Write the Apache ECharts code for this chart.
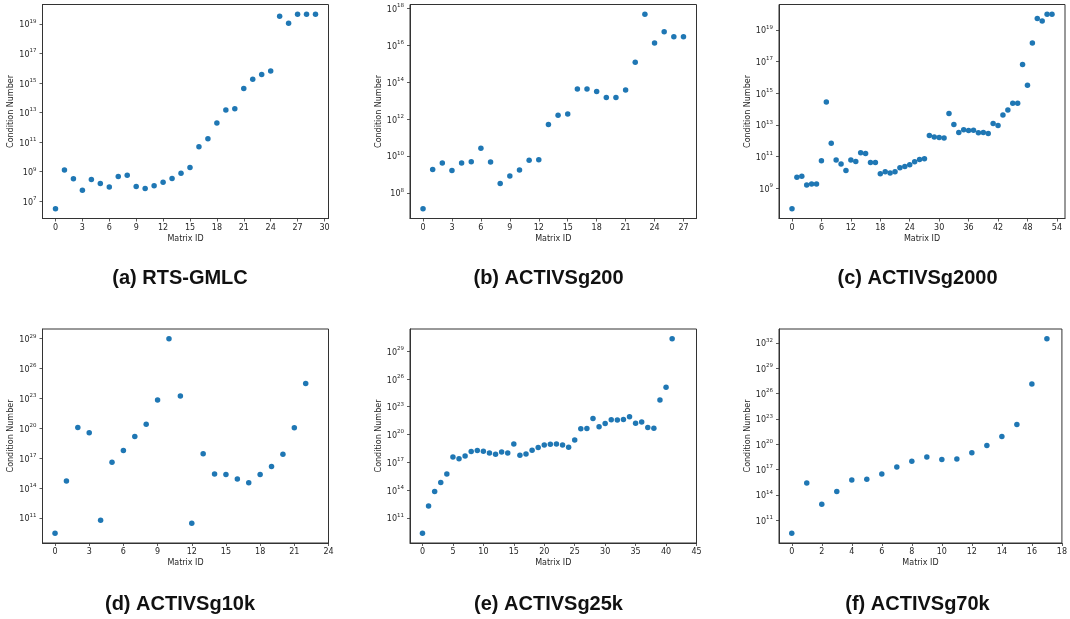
<!DOCTYPE html>
<html>
<head>
<meta charset="utf-8">
<script src="https://cdn.jsdelivr.net/npm/echarts@6/dist/echarts.min.js"></script>
<style>
  html, body { margin: 0; padding: 0; background: #fff; }
  #chart { width: 1070px; height: 619px; }
</style>
</head>
<body>
<div id="chart"></div>
<script>
// Condition numbers of the matrices in each test system (indexed by Matrix ID)
const rtsGmlc = [3.1e6, 1.3e9, 3.3e8, 5.6e7, 3.0e8, 1.6e8, 9.3e7, 4.7e8, 5.8e8, 9.8e7,
  7.2e7, 1.1e8, 1.9e8, 3.5e8, 7.9e8, 1.9e9, 4.8e10, 1.7e11, 2.0e12, 1.5e13,
  1.8e13, 4.3e14, 1.8e15, 3.7e15, 6.6e15, 3.3e19, 1.1e19, 4.5e19, 4.5e19, 4.5e19];

const activsg200 = [1.35e7, 1.8e9, 4.1e9, 1.6e9, 4.1e9, 4.8e9, 2.6e10, 4.7e9, 3.2e8, 8.1e8,
  1.7e9, 5.8e9, 6.2e9, 5.1e11, 1.6e12, 1.9e12, 4.3e13, 4.3e13, 3.1e13, 1.5e13,
  1.5e13, 3.8e13, 1.2e15, 4.9e17, 1.35e16, 5.4e16, 2.9e16, 2.9e16];

const activsg2000 = [4.9e7, 4.9e9, 5.5e9, 1.55e9, 1.8e9, 1.8e9, 5.4e10, 2.8e14, 6.9e11, 5.9e10,
  3.3e10, 1.3e10, 5.9e10, 4.8e10, 1.7e11, 1.55e11, 4.2e10, 4.2e10, 8.1e9, 1.07e10,
  8.9e9, 1.07e10, 1.9e10, 2.3e10, 3.0e10, 4.6e10, 6.5e10, 7.1e10, 2.1e12, 1.7e12,
  1.6e12, 1.45e12, 5.2e13, 1.05e13, 3.3e12, 4.8e12, 4.4e12, 4.6e12, 3.1e12, 3.3e12,
  2.8e12, 1.2e13, 9.1e12, 4.1e13, 8.5e13, 2.3e14, 2.3e14, 6.5e16, 3.2e15, 1.5e18,
  5.2e19, 3.7e19, 9.8e19, 9.8e19];

const activsg10k = [2.8e9, 5.0e14, 1.2e20, 3.5e19, 5.8e10, 3.8e16, 5.8e17, 1.5e19, 2.6e20, 6.9e22,
  1.0e29, 1.8e23, 2.9e10, 2.7e17, 2.6e15, 2.2e15, 7.9e14, 3.4e14, 2.3e15, 1.4e16,
  2.5e17, 1.1e20, 3.1e24];

const activsg25k = [2.2e9, 1.9e12, 7.2e13, 6.8e14, 5.5e15, 3.8e17, 2.5e17, 4.9e17, 1.45e18, 1.9e18,
  1.55e18, 1.0e18, 7.4e17, 1.3e18, 1.0e18, 9.8e18, 5.8e17, 7.9e17, 2.0e18, 3.9e18,
  7.6e18, 8.9e18, 9.8e18, 7.6e18, 4.3e18, 2.5e19, 4.2e20, 4.5e20, 5.5e21, 6.8e20,
  1.55e21, 3.9e21, 3.6e21, 4.3e21, 8.3e21, 1.7e21, 2.2e21, 5.8e20, 4.9e20, 5.2e23,
  1.26e25, 2.2e30];

const activsg70k = [2.9e9, 2.5e15, 7.9e12, 2.6e14, 5.8e15, 6.9e15, 3.0e16, 2.0e17, 9.3e17, 3.1e18,
  1.6e18, 1.8e18, 1.0e19, 6.9e19, 8.1e20, 2.1e22, 1.35e27, 3.0e32];

// Panel captions
const captions = ['(a) RTS-GMLC', '(b) ACTIVSg200', '(c) ACTIVSg2000',
  '(d) ACTIVSg10k', '(e) ACTIVSg25k', '(f) ACTIVSg70k'];

// Tick labels: Matrix ID ticks and decade exponents of the condition-number ticks
const xTicksA = [0, 3, 6, 9, 12, 15, 18, 21, 24, 27, 30];
const xTicksB = [0, 3, 6, 9, 12, 15, 18, 21, 24, 27];
const xTicksC = [0, 6, 12, 18, 24, 30, 36, 42, 48, 54];
const xTicksD = [0, 3, 6, 9, 12, 15, 18, 21, 24];
const xTicksE = [0, 5, 10, 15, 20, 25, 30, 35, 40, 45];
const xTicksF = [0, 2, 4, 6, 8, 10, 12, 14, 16, 18];

const yExpA = [7, 9, 11, 13, 15, 17, 19];
const yExpB = [8, 10, 12, 14, 16, 18];
const yExpC = [9, 11, 13, 15, 17, 19];
const yExpD = [11, 14, 17, 20, 23, 26, 29];
const yExpE = [11, 14, 17, 20, 23, 26, 29];
const yExpF = [11, 14, 17, 20, 23, 26, 29, 32];

// Upper x limit for panels whose Matrix ID axis is fixed (null = automatic margin)
const xMaxFixed = [null, null, null, 24, 45, 18];

const seriesData = [rtsGmlc, activsg200, activsg2000, activsg10k, activsg25k, activsg70k];
const xTicks = [xTicksA, xTicksB, xTicksC, xTicksD, xTicksE, xTicksF];
const yExps = [yExpA, yExpB, yExpC, yExpD, yExpE, yExpF];

// Subplot boxes in pixels
const colLeft = [42.5, 410, 779];
const colWidth = [286, 286.5, 286];
const rowTop = [4.5, 329];
const boxHeight = 214;
const captionX = [180, 548.5, 917.5];
const captionY = [278.5, 604];

const AXIS_COLOR = '#333';
const TEXT_COLOR = '#262626';
const DOT_COLOR = '#1f77b4';
const FONT = 'DejaVu Sans';

// 5% padding on the log scale
function logExtent(vals) {
  const l = vals.map(v => Math.log10(v));
  const lo = Math.min(...l), hi = Math.max(...l);
  const pad = (hi - lo) * 0.05;
  return [Math.pow(10, lo - pad), Math.pow(10, hi + pad)];
}

const grids = [], xAxes = [], yAxes = [], series = [], graphics = [];

seriesData.forEach((vals, k) => {
  const col = k % 3, row = Math.floor(k / 3);
  grids.push({
    left: colLeft[col], top: rowTop[row], width: colWidth[col], height: boxHeight,
    show: true, borderColor: AXIS_COLOR, borderWidth: 1, backgroundColor: 'transparent'
  });

  const n = vals.length;
  const xPad = (n - 1) * 0.05;
  const xMax = xMaxFixed[k] !== null ? xMaxFixed[k] : (n - 1) + xPad;
  xAxes.push({
    gridIndex: k, type: 'value', min: -xPad, max: xMax,
    name: 'Matrix ID', nameLocation: 'middle', nameGap: 16,
    nameTextStyle: { fontFamily: FONT, fontSize: 8, color: TEXT_COLOR },
    axisLine: { show: true, onZero: false, lineStyle: { color: AXIS_COLOR, width: 1 } },
    axisTick: { show: true, length: 3, inside: false, customValues: xTicks[k],
      lineStyle: { color: AXIS_COLOR, width: 0.8 } },
    axisLabel: { customValues: xTicks[k], margin: 5, fontFamily: FONT, fontSize: 8,
      color: TEXT_COLOR, showMinLabel: true, showMaxLabel: true },
    splitLine: { show: false }
  });

  const ext = logExtent(vals);
  const yTickVals = yExps[k].map(e => Math.pow(10, e));
  yAxes.push({
    gridIndex: k, type: 'log', logBase: 10, min: ext[0], max: ext[1],
    name: 'Condition Number', nameLocation: 'middle', nameGap: 27, nameRotate: 90,
    nameTextStyle: { fontFamily: FONT, fontSize: 8, color: TEXT_COLOR },
    axisLine: { show: true, onZero: false, lineStyle: { color: AXIS_COLOR, width: 1 } },
    axisTick: { show: true, length: 3, inside: false, customValues: yTickVals,
      lineStyle: { color: AXIS_COLOR, width: 0.8 } },
    axisLabel: {
      customValues: yTickVals, margin: 6,
      formatter: v => '{b|10}{s|' + Math.round(Math.log10(v)) + '}',
      rich: {
        b: { fontFamily: FONT, fontSize: 8, color: TEXT_COLOR, lineHeight: 11, verticalAlign: 'bottom' },
        s: { fontFamily: FONT, fontSize: 5.5, color: TEXT_COLOR, lineHeight: 7, verticalAlign: 'top' }
      }
    },
    splitLine: { show: false }
  });

  series.push({
    type: 'scatter', xAxisIndex: k, yAxisIndex: k,
    data: vals.map((v, i) => [i, v]),
    symbol: 'circle', symbolSize: 5.5,
    itemStyle: { color: DOT_COLOR, opacity: 1 },
    silent: true, animation: false
  });

  graphics.push({
    type: 'text', x: captionX[col], y: captionY[row],
    style: {
      text: captions[k], fontFamily: 'Liberation Sans', fontWeight: 'bold', fontSize: 20,
      fill: '#111', textAlign: 'center', textVerticalAlign: 'middle'
    }
  });
});

const chart = echarts.init(document.getElementById('chart'), null, { renderer: 'canvas' });
chart.setOption({
  animation: false,
  backgroundColor: '#fff',
  grid: grids,
  xAxis: xAxes,
  yAxis: yAxes,
  series: series,
  graphic: graphics
});
</script>
</body>
</html>
